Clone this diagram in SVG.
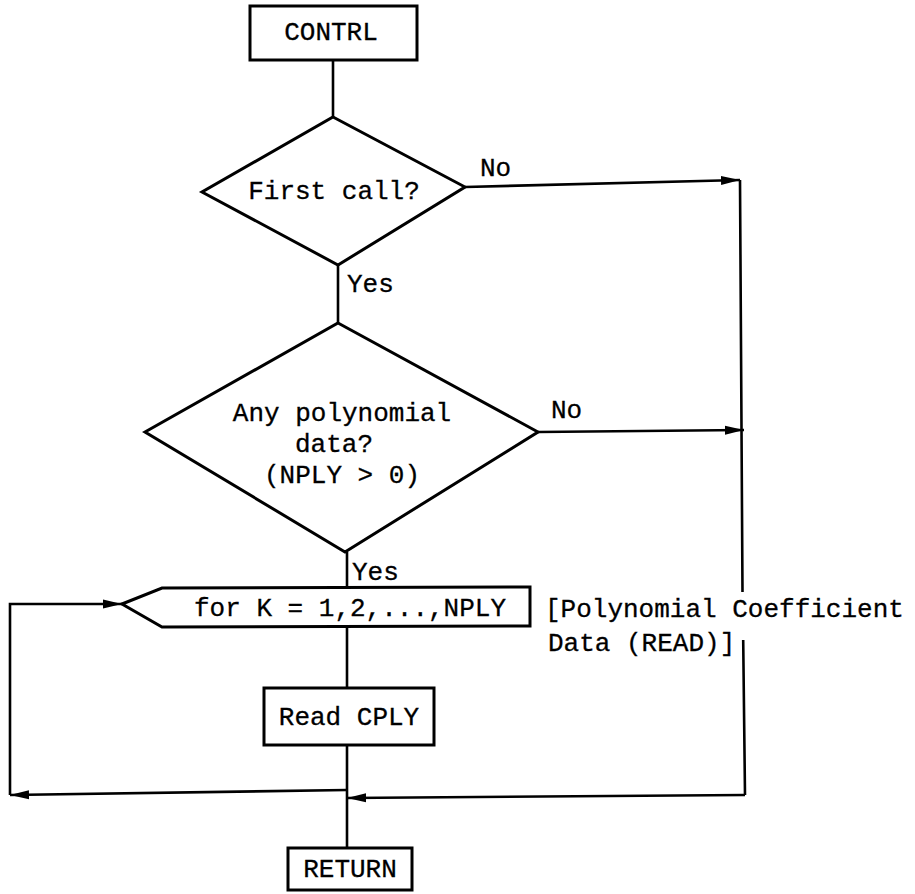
<svg xmlns="http://www.w3.org/2000/svg" width="915" height="894" viewBox="0 0 915 894">
<defs>
<style>
.n{fill:#fff;stroke:#000;stroke-width:3;stroke-linejoin:miter}
.c{fill:none;stroke:#000;stroke-width:2.6}
.t{font-family:"Liberation Mono","DejaVu Sans Mono",monospace;font-size:26px;fill:#000;stroke:#000;stroke-width:0.3}
.m{text-anchor:middle}
</style>
<marker id="ah" markerUnits="userSpaceOnUse" markerWidth="20" markerHeight="12" refX="19" refY="5" orient="auto">
<path d="M0,0.5 L19,5 L0,9.5 z" fill="#000"/>
</marker>
</defs>
<rect width="915" height="894" fill="#fff"/>
<g id="connectors">
<path class="c" d="M333,60 L333,117"/>
<path class="c" d="M465,187 L740,180" marker-end="url(#ah)"/>
<path class="c" d="M338,265 L338,323"/>
<path class="c" d="M538,432 L744,430" marker-end="url(#ah)"/>
<path class="c" d="M740,180 L742.5,592 M743.2,640 L745,795"/>
<path class="c" d="M347,552 L347,587"/>
<path class="c" d="M347,626 L347,688"/>
<path class="c" d="M347,745 L347,848"/>
<path class="c" d="M347,790 L10,795" marker-end="url(#ah)"/>
<path class="c" d="M10,795 L10,604 L122,604" marker-end="url(#ah)"/>
<path class="c" d="M745,795 L347,798" marker-end="url(#ah)"/>
</g>
<g id="contrl">
<rect class="n" x="250" y="6" width="167" height="54"/>
<text class="t m" x="331" y="40">CONTRL</text>
</g>
<g id="first-call">
<polygon class="n" points="333,117 465,187 338,265 202,192"/>
<text class="t m" x="334" y="199">First call?</text>
</g>
<text class="t" x="480" y="176">No</text>
<text class="t" x="347" y="292">Yes</text>
<g id="any-poly">
<polygon class="n" points="338,323 538,432 345,552 145,432"/>
<text class="t m" x="342" y="421">Any polynomial</text>
<text class="t m" x="334" y="452">data?</text>
<text class="t m" x="342" y="483">(NPLY &gt; 0)</text>
</g>
<text class="t" x="551" y="418">No</text>
<text class="t" x="352" y="580">Yes</text>
<g id="loop">
<polygon class="n" points="122,604 162,588 530,587 530,626 162,627"/>
<text class="t m" x="350" y="616">for K = 1,2,...,NPLY</text>
</g>
<g id="note">
<text class="t" x="545" y="617">[Polynomial Coefficient</text>
<text class="t" x="548" y="651">Data (READ)]</text>
</g>
<g id="read-cply">
<rect class="n" x="264" y="688" width="170" height="57"/>
<text class="t m" x="349" y="725">Read CPLY</text>
</g>
<g id="return">
<rect class="n" x="288" y="848" width="124" height="42"/>
<text class="t m" x="350" y="877">RETURN</text>
</g>
</svg>
